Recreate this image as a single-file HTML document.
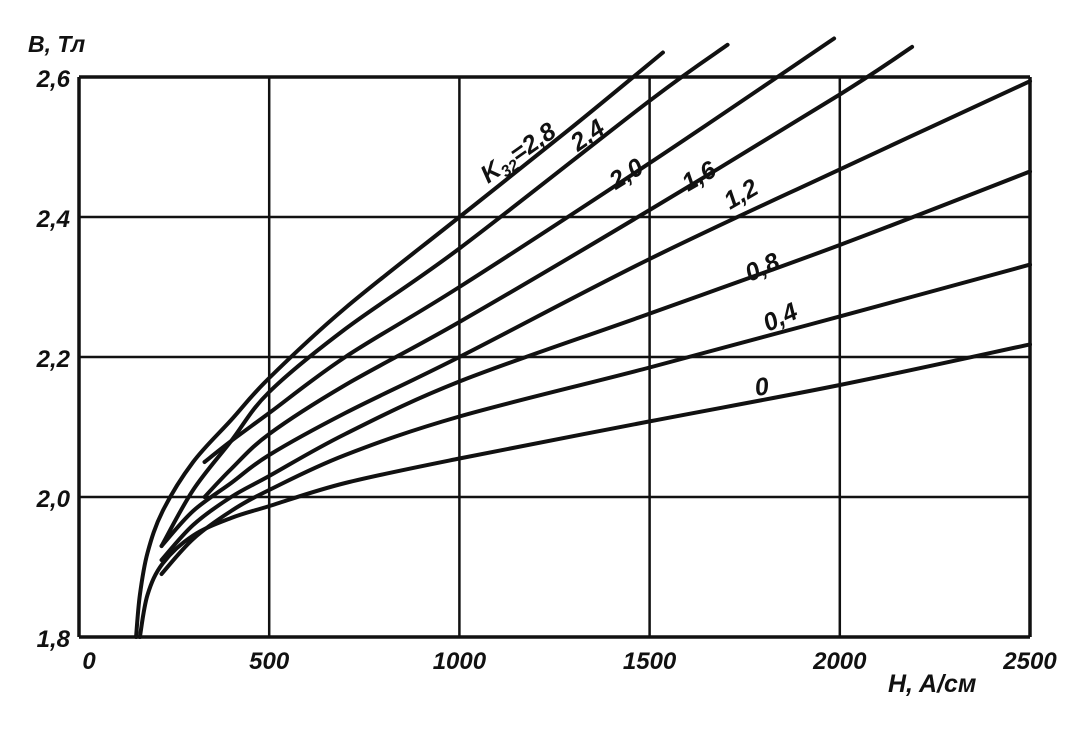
<!DOCTYPE html>
<html><head><meta charset="utf-8">
<style>
html,body{margin:0;padding:0;background:#fff;}
svg{display:block;}
text{font-family:"Liberation Sans",sans-serif;font-style:italic;font-weight:bold;fill:#111;}
</style></head>
<body>
<svg id="chart" width="1075" height="735" viewBox="0 0 1075 735" xmlns="http://www.w3.org/2000/svg">
<g id="grid"></g>
<g id="curves"></g>
<g id="labels"></g>
<text x="28" y="52" font-size="23">B, Тл</text>
<text x="888" y="692" font-size="25">H, A/см</text>
</svg>
<script>
const xTicks = [0, 500, 1000, 1500, 2000, 2500];
const xTickLabels = ["0", "500", "1000", "1500", "2000", "2500"];
const yTicks = [1.8, 2.0, 2.2, 2.4, 2.6];
const yTickLabels = ["1,8", "2,0", "2,2", "2,4", "2,6"];
const seriesNames = ["0", "0,4", "0,8", "1,2", "1,6", "2,0", "2,4", "K32=2,8"];
const h0 = [160,180,220,300,400,500,700,1000,1500,2000,2500];
const b0 = [1.80,1.86,1.905,1.945,1.97,1.987,2.02,2.055,2.108,2.16,2.218];
const h04 = [217,300,400,500,700,1000,1500,2000,2500];
const b04 = [1.89,1.94,1.98,2.01,2.06,2.115,2.185,2.258,2.332];
const h08 = [217,300,400,500,700,1000,1500,2000,2500];
const b08 = [1.91,1.96,2.00,2.03,2.09,2.165,2.262,2.36,2.465];
const h12 = [217,300,400,500,700,1000,1500,2000,2500];
const b12 = [1.93,1.98,2.02,2.06,2.12,2.20,2.34,2.468,2.594];
const h16 = [330,400,500,700,1000,1500,2000,2190];
const b16 = [2.00,2.04,2.09,2.16,2.25,2.41,2.575,2.643];
const h20 = [330,400,500,700,1000,1500,1985];
const b20 = [2.05,2.08,2.12,2.20,2.30,2.477,2.655];
const h24 = [217,300,400,500,700,1000,1500,1705];
const b24 = [1.93,2.01,2.08,2.15,2.24,2.355,2.566,2.646];
const h28 = [150,160,180,220,300,400,500,700,1000,1300,1535];
const b28 = [1.80,1.86,1.92,1.98,2.05,2.11,2.17,2.27,2.40,2.53,2.635];

const NS = "http://www.w3.org/2000/svg";
const X0 = 79, X1 = 1030, Y0 = 637, Y1 = 77;
function xs(v){ return X0 + (v - 0) / 2500 * (X1 - X0); }
function ys(v){ return Y0 - (v - 1.8) / 0.8 * (Y0 - Y1); }
function mk(tag, attrs, parent){ const e = document.createElementNS(NS, tag); for (const k in attrs) e.setAttribute(k, attrs[k]); parent.appendChild(e); return e; }

const grid = document.getElementById('grid');
xTicks.forEach((t, i) => {
  const w = (i === 0 || i === xTicks.length - 1) ? 3.5 : 2.5;
  const l = mk('line', {x1: xs(t), x2: xs(t), y1: ys(2.6), y2: ys(1.8), stroke: '#111', 'stroke-width': w}, grid);
  
  
  const tx = mk('text', {x: xs(t) + (i === 0 ? 10 : 0), y: 669, 'font-size': 24, 'text-anchor': 'middle'}, grid);
  tx.textContent = xTickLabels[i];
  
  
});
yTicks.forEach((t, i) => {
  const w = (i === 0 || i === yTicks.length - 1) ? 3.5 : 2.5;
  const l = mk('line', {x1: xs(0), x2: xs(2500), y1: ys(t), y2: ys(t), stroke: '#111', 'stroke-width': w}, grid);
  
  
  const tx = mk('text', {x: 70, y: ys(t) + 10, 'font-size': 24, 'text-anchor': 'end'}, grid);
  tx.textContent = yTickLabels[i];
  
  
});

function pathFrom(hs, bs){
  const p = hs.map((h, i) => [xs(h), ys(bs[i])]);
  let d = 'M' + p[0][0] + ',' + p[0][1];
  for (let i = 0; i < p.length - 1; i++){
    const a = p[i - 1] || p[i], b = p[i], c = p[i + 1], e = p[i + 2] || c;
    const c1 = [b[0] + (c[0] - a[0]) / 6, b[1] + (c[1] - a[1]) / 6];
    const c2 = [c[0] - (e[0] - b[0]) / 6, c[1] - (e[1] - b[1]) / 6];
    d += ' C' + c1[0] + ',' + c1[1] + ' ' + c2[0] + ',' + c2[1] + ' ' + c[0] + ',' + c[1];
  }
  return d;
}
const curves = document.getElementById('curves');
const allH = [h0, h04, h08, h12, h16, h20, h24, h28];
const allB = [b0, b04, b08, b12, b16, b20, b24, b28];
allH.forEach((hs, i) => {
  const p = mk('path', {d: pathFrom(hs, allB[i]), fill: 'none', stroke: '#111', 'stroke-width': 4, 'stroke-linecap': 'round'}, curves);
  
  
});

const labels = document.getElementById('labels');
const labelPos = [[756, 396, -8], [768, 332, -25], [750, 282, -25], [730, 210, -30], [688, 192, -30], [616, 190, -32], [578, 152, -35], [488, 184, -35]];
seriesNames.forEach((n, i) => {
  const [x, y, r] = labelPos[i];
  const t = mk('text', {x: x, y: y, 'font-size': 25, 'font-style': 'normal', 'font-weight': 'normal', transform: 'rotate(' + r + ' ' + x + ' ' + y + ')'}, labels);
  if (i === 7) { t.innerHTML = 'K<tspan font-size="16" dy="5">32</tspan><tspan dy="-5">=2,8</tspan>'; }
  else t.textContent = n;
  
  
});
</script>
</body></html>
